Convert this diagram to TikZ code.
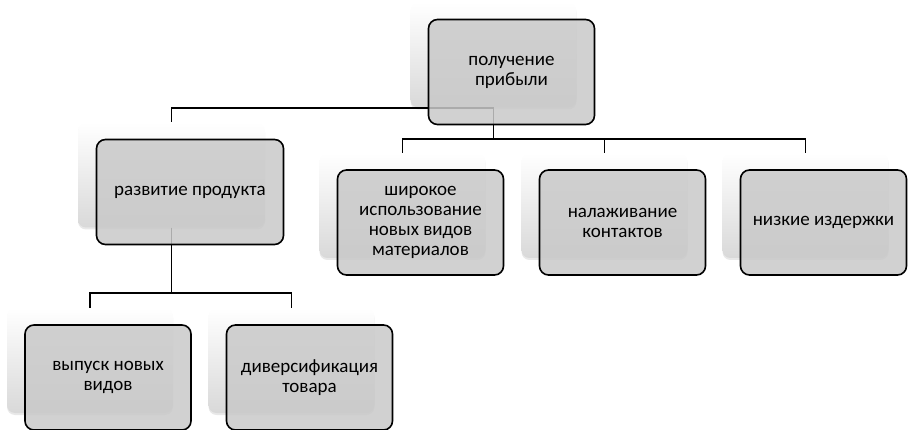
\documentclass[tikz,border=0pt]{standalone}
\usepackage{fontspec}
\setmainfont{Carlito}
\usetikzlibrary{shadows}
\tikzset{
  card/.style={rectangle, rounded corners=8pt, minimum width=166pt, minimum height=105pt,
    top color=white, bottom color=black!15, draw=none,
    drop shadow={opacity=0.18, shadow xshift=0pt, shadow yshift=-2pt}},
  box/.style={rectangle, rounded corners=9pt, draw=black, line width=1.6pt,
    fill=black!21, fill opacity=0.85, text opacity=1, minimum width=166pt, minimum height=105pt,
    align=center, text=black, font=\fontsize{19}{20}\selectfont},
  link/.style={black, line width=1.9pt}
}
\begin{document}
\begin{tikzpicture}[x=1pt,y=-1pt]
\useasboundingbox (0,0) rectangle (908,430);

% back cards
\node (profitB) at (493.5,55) [card]{};
\node (prodB) at (171.5,175) [card, minimum width=187pt]{};
\node (matB) at (402.5,205.5) [card]{};
\node (contB) at (604.5,205.5) [card]{};
\node (costB) at (805.5,205.5) [card]{};
\node (issueB) at (90,360.5) [card]{};
\node (diverB) at (291.5,360.5) [card]{};

% connectors
\draw[link] (profitB.south) -| (prodB.north);
\draw[link] (profitB.south) -- ++(0,31) -| (matB.north);
\draw[link] (profitB.south) -- ++(0,31) -| (contB.north);
\draw[link] (profitB.south) -- ++(0,31) -| (costB.north);
\draw[link] (prodB.south) -- ++(0,65) -| (issueB.north);
\draw[link] (prodB.south) -- ++(0,65) -| (diverB.north);

% front boxes
\node (profit) at (511.5,72) [box]{получение\\прибыли};
\node (prod) at (190,192) [box, minimum width=187pt]{развитие продукта};
\node (mat) at (420.5,222.5) [box]{широкое\\использование\\новых видов\\материалов};
\node (cont) at (622.5,222.5) [box]{налаживание\\контактов};
\node (cost) at (823.5,222.5) [box]{низкие издержки};
\node (issue) at (108,377.5) [box]{выпуск новых\\видов};
\node (diver) at (309.5,377.5) [box]{диверсификация\\товара};

\end{tikzpicture}
\end{document}
